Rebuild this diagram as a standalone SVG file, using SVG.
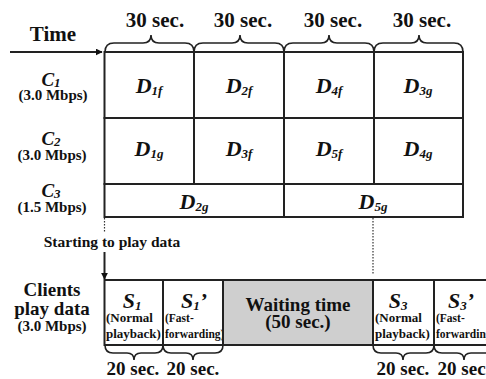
<svg xmlns="http://www.w3.org/2000/svg" width="486" height="379" viewBox="0 0 486 379">
  <defs>
    <marker id="arrow" viewBox="0 0 10 10" refX="9" refY="5" markerWidth="7" markerHeight="7" markerUnits="userSpaceOnUse" orient="auto">
      <path d="M0,0 L10,5 L0,10 z" fill="#111"/>
    </marker>
    <style>
      text { font-family: "Liberation Serif", "Times New Roman", serif; font-weight: bold; fill: #111; }
      .big { font-size: 21px; }
      .dlab { font-size: 22px; }
      .lbl { font-size: 19px; }
      .rate { font-size: 15px; }
      .note { font-size: 13px; }
      .tiny { font-size: 11.5px; }
      .it { font-style: italic; }
      .mid { text-anchor: middle; }
      .sub { font-size: 13px; }
      .cell { fill: #fff; stroke: #222; stroke-width: 2; }
      .gray { fill: #cfcfcf; stroke: #222; stroke-width: 2; }
      .line { fill: none; stroke: #222; stroke-width: 2; }
      .brace { fill: none; stroke: #222; stroke-width: 1.6; }
      .dot { fill: none; stroke: #333; stroke-width: 1.2; stroke-dasharray: 1.5 1.5; }
    </style>
  </defs>

  <!-- time axis -->
  <g id="time-axis">
    <text class="big mid" x="53" y="41">Time</text>
    <line class="line" x1="10" y1="52" x2="102" y2="52" marker-end="url(#arrow)"/>
  </g>

  <!-- 30-second slot braces -->
  <g id="slot-braces">
    <path class="brace" d="M105 52 Q105 43 114 43 L143 43 Q151 43 151 35 Q151 43 159 43 L185 43 Q194 43 194 52"/>
    <path class="brace" d="M194 52 Q194 43 203 43 L232 43 Q240 43 240 35 Q240 43 248 43 L275 43 Q284 43 284 52"/>
    <path class="brace" d="M284 52 Q284 43 293 43 L321 43 Q329 43 329 35 Q329 43 337 43 L365 43 Q374 43 374 52"/>
    <path class="brace" d="M374 52 Q374 43 383 43 L411 43 Q419 43 419 35 Q419 43 427 43 L454 43 Q463 43 463 52"/>
    <text class="big mid" x="155" y="27">30 sec.</text>
    <text class="big mid" x="243" y="27">30 sec.</text>
    <text class="big mid" x="333" y="27">30 sec.</text>
    <text class="big mid" x="422" y="27">30 sec.</text>
  </g>

  <!-- channel labels -->
  <g id="channel-c1">
    <text class="lbl it mid" x="51" y="86">C<tspan class="sub" dy="1">1</tspan></text>
    <text class="rate mid" x="53" y="100">(3.0 Mbps)</text>
  </g>
  <g id="channel-c2">
    <text class="lbl it mid" x="51" y="145">C<tspan class="sub" dy="1">2</tspan></text>
    <text class="rate mid" x="52" y="160">(3.0 Mbps)</text>
  </g>
  <g id="channel-c3">
    <text class="lbl it mid" x="51" y="197">C<tspan class="sub" dy="1">3</tspan></text>
    <text class="rate mid" x="52" y="212">(1.5 Mbps)</text>
  </g>

  <!-- channel C1 segments -->
  <g id="d1f"><rect class="cell" x="104.5" y="52" width="89.5" height="66"/><text class="dlab it mid" x="149" y="93">D<tspan class="sub" dy="2">1f</tspan></text></g>
  <g id="d2f"><rect class="cell" x="194" y="52" width="90" height="66"/><text class="dlab it mid" x="239" y="93">D<tspan class="sub" dy="2">2f</tspan></text></g>
  <g id="d4f"><rect class="cell" x="284" y="52" width="90" height="66"/><text class="dlab it mid" x="329" y="93">D<tspan class="sub" dy="2">4f</tspan></text></g>
  <g id="d3g"><rect class="cell" x="374" y="52" width="89" height="66"/><text class="dlab it mid" x="418" y="93">D<tspan class="sub" dy="2">3g</tspan></text></g>

  <!-- channel C2 segments -->
  <g id="d1g"><rect class="cell" x="104.5" y="118" width="89.5" height="66"/><text class="dlab it mid" x="149" y="156">D<tspan class="sub" dy="2">1g</tspan></text></g>
  <g id="d3f"><rect class="cell" x="194" y="118" width="90" height="66"/><text class="dlab it mid" x="239" y="156">D<tspan class="sub" dy="2">3f</tspan></text></g>
  <g id="d5f"><rect class="cell" x="284" y="118" width="90" height="66"/><text class="dlab it mid" x="329" y="156">D<tspan class="sub" dy="2">5f</tspan></text></g>
  <g id="d4g"><rect class="cell" x="374" y="118" width="89" height="66"/><text class="dlab it mid" x="418" y="156">D<tspan class="sub" dy="2">4g</tspan></text></g>

  <!-- channel C3 segments -->
  <g id="d2g"><rect class="cell" x="104.5" y="184" width="179.5" height="33"/><text class="dlab it mid" x="194" y="209">D<tspan class="sub" dy="2">2g</tspan></text></g>
  <g id="d5g"><rect class="cell" x="284" y="184" width="179" height="33"/><text class="dlab it mid" x="373" y="209">D<tspan class="sub" dy="2">5g</tspan></text></g>

  <!-- guides and start marker -->
  <g id="connectors">
    <line class="dot" x1="104.5" y1="218" x2="104.5" y2="233"/>
    <line class="dot" x1="373" y1="218" x2="373" y2="274"/>
    <line class="line" x1="104.5" y1="252" x2="104.5" y2="279" stroke-width="1.5" marker-end="url(#arrow)"/>
  </g>
  <g id="start-label">
    <text class="mid" x="112" y="247" style="font-size:15.5px">Starting to play data</text>
  </g>

  <!-- client playback row -->
  <g id="clients-label">
    <text class="lbl mid" x="52" y="296">Clients</text>
    <text class="lbl mid" x="52" y="315">play data</text>
    <text class="rate mid" x="52" y="331">(3.0 Mbps)</text>
  </g>
  <g id="s1">
    <rect class="cell" x="104.5" y="280" width="58.5" height="65"/>
    <text class="dlab it mid" x="132" y="308">S<tspan class="sub" dy="2">1</tspan></text>
    <text class="note" x="106" y="322">(Normal</text>
    <text class="note" x="106" y="338">playback)</text>
  </g>
  <g id="s1-fast">
    <rect class="cell" x="163" y="280" width="60" height="65"/>
    <text class="dlab it mid" x="194" y="308">S<tspan class="sub" dy="2">1</tspan><tspan dy="-2">’</tspan></text>
    <text class="tiny" x="165" y="322">(Fast-</text>
    <text class="tiny" x="165" y="338">forwarding)</text>
  </g>
  <g id="waiting">
    <rect class="gray" x="223" y="280" width="150" height="65"/>
    <text class="lbl mid" x="298" y="311">Waiting time</text>
    <text class="lbl mid" x="298" y="328">(50 sec.)</text>
  </g>
  <g id="s3">
    <rect class="cell" x="373" y="280" width="61" height="65"/>
    <text class="dlab it mid" x="398" y="308">S<tspan class="sub" dy="2">3</tspan></text>
    <text class="note" x="375" y="322">(Normal</text>
    <text class="note" x="375" y="338">playback)</text>
  </g>
  <g id="s3-fast">
    <rect class="cell" x="434" y="280" width="62" height="65"/>
    <text class="dlab it mid" x="461" y="308">S<tspan class="sub" dy="2">3</tspan><tspan dy="-2">’</tspan></text>
    <text class="tiny" x="436" y="322">(Fast-</text>
    <text class="tiny" x="436" y="338">forwarding)</text>
  </g>

  <!-- 20-second braces -->
  <g id="play-braces">
    <path class="brace" d="M105 345 Q105 353 113 353 L127 353 Q134 353 134 360 Q134 353 141 353 L155 353 Q163 353 163 345"/>
    <path class="brace" d="M163 345 Q163 353 171 353 L186 353 Q193 353 193 360 Q193 353 200 353 L215 353 Q223 353 223 345"/>
    <path class="brace" d="M373 345 Q373 353 381 353 L396 353 Q403 353 403 360 Q403 353 410 353 L426 353 Q434 353 434 345"/>
    <path class="brace" d="M434 345 Q434 353 442 353 L457 353 Q464 353 464 360 Q464 353 471 353 L486 353 Q494 353 494 345"/>
    <text class="lbl mid" x="133" y="375">20 sec.</text>
    <text class="lbl mid" x="193" y="375">20 sec.</text>
    <text class="lbl mid" x="403" y="375">20 sec.</text>
    <text class="lbl mid" x="464" y="375">20 sec.</text>
  </g>
</svg>
